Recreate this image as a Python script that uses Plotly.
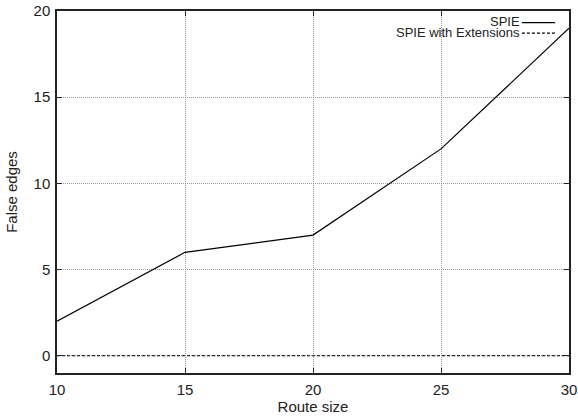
import plotly.graph_objects as go

route_size = [10, 15, 20, 25, 30]
spie = [2, 6, 7, 12, 19]
spie_ext = [0, 0, 0, 0, 0]
x_ticks = [10, 15, 20, 25, 30]
y_ticks = [0, 5, 10, 15, 20]

font = dict(family="Liberation Sans, Arial, sans-serif", size=15, color="#222")

fig = go.Figure()
fig.add_trace(go.Scatter(x=route_size, y=spie, mode="lines", name="SPIE",
                         line=dict(color="black", width=1.2), showlegend=False))
fig.add_trace(go.Scatter(x=route_size, y=spie_ext, mode="lines", name="SPIE with Extensions",
                         line=dict(color="black", width=1.2, dash="3px,2px"), showlegend=False))

axis_common = dict(showline=True, linecolor="#222", linewidth=1.5, mirror="allticks",
                   ticks="inside", ticklen=5, tickcolor="#222", tickwidth=1,
                   showgrid=True, gridcolor="#999", griddash="1px,1px", gridwidth=1,
                   zeroline=False, tickfont=font, automargin=False)

fig.update_xaxes(range=[10, 30], tickvals=x_ticks,
                 title=dict(text="Route size", font=font, standoff=0), ticklabelstandoff=2,
                 **axis_common)
fig.update_yaxes(range=[-1, 20], tickvals=y_ticks,
                 title=dict(text="False edges", font=font, standoff=12), ticklabelstandoff=2,
                 **axis_common)

# legend (top right, text left of sample line)
lfont = dict(family=font["family"], size=13, color="#222")
fig.add_annotation(x=0.900, y=0.971, xref="paper", yref="paper", text="SPIE", showarrow=False,
                   xanchor="right", yanchor="middle", xshift=3, borderpad=0, font=lfont)
fig.add_annotation(x=0.900, y=0.940, xref="paper", yref="paper", text="SPIE with Extensions",
                   showarrow=False, xanchor="right", yanchor="middle", xshift=3, borderpad=0, font=lfont)
fig.add_shape(type="line", xref="paper", yref="paper", x0=0.908, x1=0.973, y0=0.968, y1=0.968,
              line=dict(color="black", width=1.2))
fig.add_shape(type="line", xref="paper", yref="paper", x0=0.908, x1=0.973, y0=0.939, y1=0.939,
              line=dict(color="black", width=1.2, dash="3px,2px"))

fig.update_layout(width=578, height=417, margin=dict(l=57, r=9, t=11, b=44),
                  plot_bgcolor="white", paper_bgcolor="white", font=font)
# remove the browser's default 8px body margin so the figure fills the window exactly
fig.write_html("out.html", config={"displayModeBar": False},
               post_script="document.body.style.margin='0';document.body.style.overflow='hidden';")
